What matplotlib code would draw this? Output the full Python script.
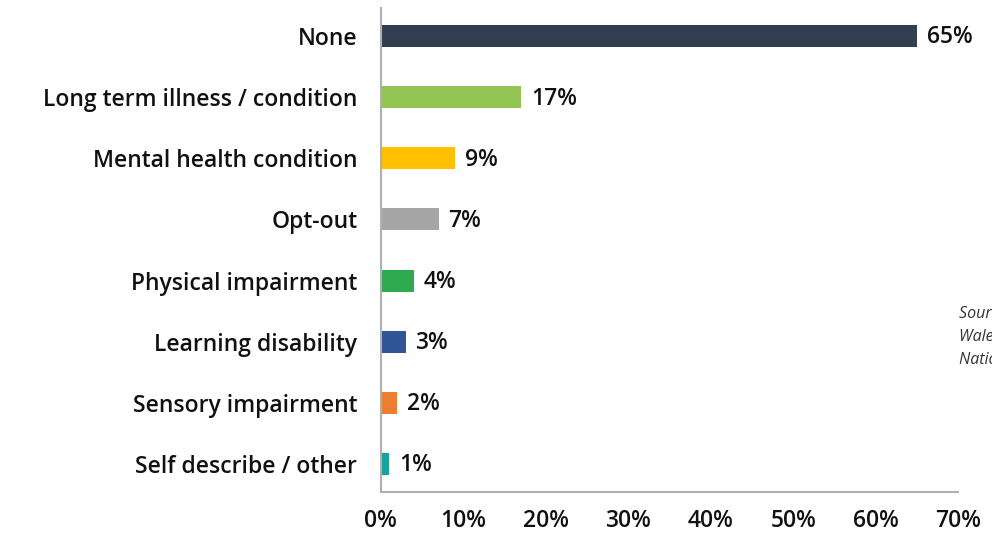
import numpy as np
import matplotlib.pyplot as plt

categories = ["None", "Long term illness / condition", "Mental health condition",
              "Opt-out", "Physical impairment", "Learning disability",
              "Sensory impairment", "Self describe / other"]
values = [65, 17, 9, 7, 4, 3, 2, 1]
colors = ["#343e52", "#92c353", "#ffc000", "#a6a6a6", "#2eaa4f", "#2f5597",
          "#ed7d31", "#17a2a0"]
xticks = [0, 10, 20, 30, 40, 50, 60, 70]

plt.rcParams["font.family"] = ["Open Sans", "DejaVu Sans"]
FS = 16.5
FW = "semibold"

fig = plt.figure(figsize=(9.92, 5.33), dpi=100)
ax = fig.add_axes([0.384, 0.077, 0.582, 0.908])

y = np.arange(len(categories))
ax.barh(y, values, height=0.36, color=colors)
for yi, v in zip(y, values):
    ax.annotate(f"{v}%", (v, yi), xytext=(7, -1), textcoords="offset points",
                va="center", ha="left", fontsize=FS, fontweight=FW, color="#111111")

ax.set_ylim(len(categories) - 0.54, -0.46)
ax.set_xlim(0, 70)
ax.set_yticks(y)
ax.set_yticklabels(categories, fontsize=FS, fontweight=FW, color="#111111")
ax.set_xticks(xticks)
ax.set_xticklabels([f"{t}%" for t in xticks], fontsize=FS, fontweight=FW, color="#111111")
ax.tick_params(axis="y", length=0, pad=17)
ax.tick_params(axis="x", length=0, pad=12)

for s in ["top", "right"]:
    ax.spines[s].set_visible(False)
for s in ["left", "bottom"]:
    ax.spines[s].set_color("#b0b0b0")
    ax.spines[s].set_linewidth(1.5)

# source note on the right edge
for i, line in enumerate(["Source: Welsh Government", "Wales Employment",
                          "National Survey"]):
    fig.text(0.967, 0.41 - i * 0.043, line, fontsize=11.5, style="italic",
             color="#333333", ha="left", va="center")

fig.savefig("out.png", dpi=100)
